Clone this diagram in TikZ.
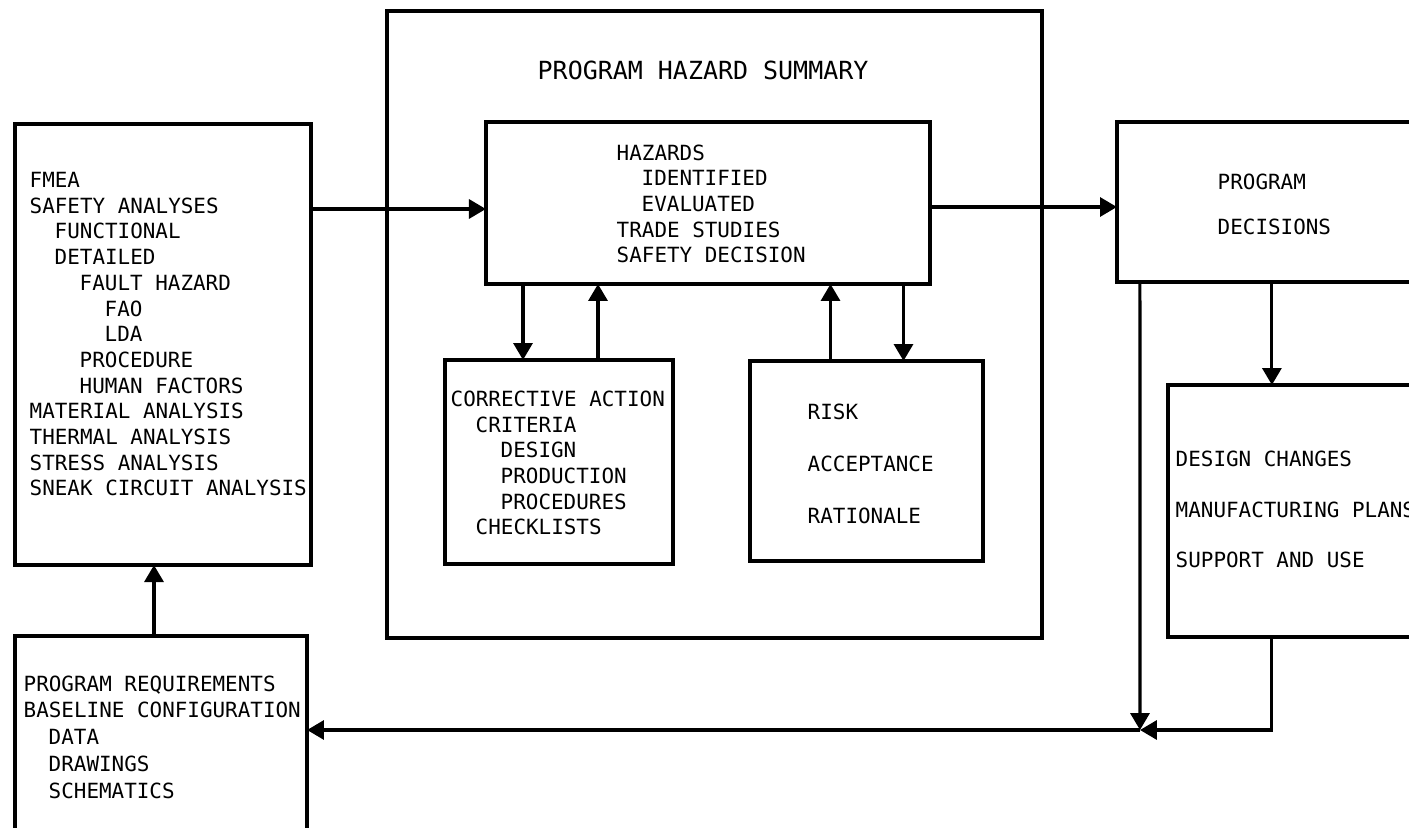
\documentclass[tikz,border=0pt]{standalone}
\usepackage{fontspec}
\newfontfamily\reportfont{DejaVu Sans Mono}
\usetikzlibrary{calc, arrows.meta}
\newcommand{\In}{\hspace*{0.25cm}}
\tikzset{
    boxnode/.style={rectangle, draw, line width=1pt, inner sep=0pt, outer sep=0pt},
    listtext/.style={anchor=base west, align=left, inner sep=0pt, font=\reportfont\fontsize{5.95}{7.31}\selectfont},
    flow/.style={-{Triangle[length=4.8pt, width=5.4pt]}, line width=0.9pt},
}

\begin{document}
\begin{tikzpicture}[x=0.01cm, y=-0.01cm]
    \useasboundingbox (0,0) rectangle (1409,828);
    \fill[white] (0,0) rectangle (1409,828);
    \clip (0,0) rectangle (1409,828);

    % analyses (text placed by the baseline of its last line)
    \node[boxnode, minimum width=2.96cm, minimum height=4.41cm] (A) at (163,344.5) {};
    \node[listtext] (atxt) at (29,496) {FMEA\\SAFETY ANALYSES\\\In FUNCTIONAL\\\In DETAILED\\\In\In FAULT HAZARD\\\In\In\In FAO\\\In\In\In LDA\\\In\In PROCEDURE\\\In\In HUMAN FACTORS\\MATERIAL ANALYSIS\\THERMAL ANALYSIS\\STRESS ANALYSIS\\SNEAK CIRCUIT ANALYSIS};

    % requirements
    \node[boxnode, minimum width=2.92cm, minimum height=2.40cm] (B) at (161,756) {};
    \node[listtext, font=\reportfont\fontsize{5.95}{7.6}\selectfont] (btxt) at (23,798) {PROGRAM REQUIREMENTS\\BASELINE CONFIGURATION\\\In DATA\\\In DRAWINGS\\\In SCHEMATICS};

    % program hazard summary
    \node[boxnode, minimum width=6.55cm, minimum height=6.27cm] (C) at (714.5,324.5) {};
    \node[listtext, font=\reportfont\fontsize{7.1}{8.5}\selectfont] (title) at (537,80) {PROGRAM HAZARD SUMMARY};

    \node[boxnode, minimum width=4.44cm, minimum height=1.62cm] (D) at (708,203) {};
    \node[listtext] (dtxt) at (616,263) {HAZARDS\\\In IDENTIFIED\\\In EVALUATED\\TRADE STUDIES\\SAFETY DECISION};

    \node[boxnode, minimum width=2.28cm, minimum height=2.04cm] (E) at (559,462) {};
    \node[listtext] (etxt) at (450,535) {CORRECTIVE ACTION\\\In CRITERIA\\\In\In DESIGN\\\In\In PRODUCTION\\\In\In PROCEDURES\\\In CHECKLISTS};

    \node[boxnode, minimum width=2.33cm, minimum height=2.00cm] (F) at (866.5,461) {};
    \node[listtext, font=\reportfont\fontsize{5.95}{14.8}\selectfont] (ftxt) at (807,524) {RISK\\ACCEPTANCE\\RATIONALE};

    % decisions
    \node[boxnode, minimum width=3.53cm, minimum height=1.60cm] (G) at (1293.5,202) {};
    \node[listtext, font=\reportfont\fontsize{5.95}{12.8}\selectfont] (gtxt) at (1217,235) {PROGRAM\\DECISIONS};

    \node[boxnode, minimum width=3.02cm, minimum height=2.52cm] (H) at (1319,511) {};
    \node[listtext, font=\reportfont\fontsize{5.95}{14.5}\selectfont] (htxt) at (1175,568) {DESIGN CHANGES\\MANUFACTURING PLANS\\SUPPORT AND USE};

    % connectors
    \coordinate (a1) at ($(D.west)+(0,6)$);
    \coordinate (b1) at ($(B.north)+(-7,0)$);
    \coordinate (e1) at ($(E.north)+(-36,0)$);
    \coordinate (e2) at ($(E.north)+(39,0)$);
    \coordinate (f1) at ($(F.north)+(-36,0)$);
    \coordinate (f2) at ($(F.north)+(37,0)$);
    \coordinate (g1) at ($(G.south west)+(23,0)$);
    \coordinate (g2) at ($(G.south west)+(155,0)$);
    \coordinate (j) at (1140,730);

    \draw[flow] (a1 -| A.east) -- (a1);
    \draw[flow] (D.east |- 0,207) -- (G.west |- 0,207);
    \draw[flow] (e1 |- D.south) -- (e1);
    \draw[flow] (e2) -- (e2 |- D.south);
    \draw[flow] (f1) -- (f1 |- D.south);
    \draw[flow] (f2 |- D.south) -- (f2);
    \draw[flow] (g2) -- (g2 |- H.north);
    \draw[flow] (g1) -- (j);
    \draw[flow] (g2 |- H.south) |- (j);
    \draw[flow] (j) -- (j -| B.east);
    \draw[flow] (b1) -- (b1 |- A.south);
\end{tikzpicture}
\end{document}
